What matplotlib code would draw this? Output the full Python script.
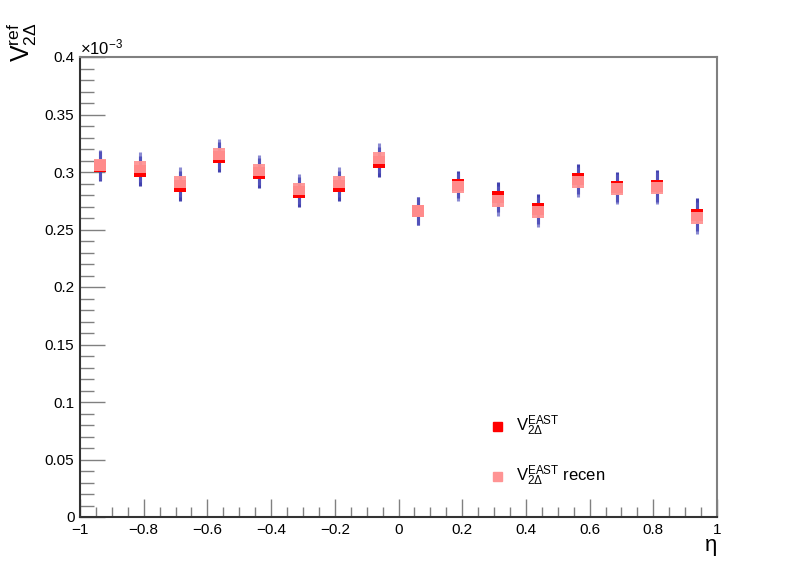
import numpy as np
import matplotlib.pyplot as plt
from matplotlib.ticker import MultipleLocator, FixedFormatter, FixedLocator

plt.rcParams['font.family'] = ['Liberation Sans', 'DejaVu Sans']
plt.rcParams['mathtext.fontset'] = 'custom'
plt.rcParams['mathtext.rm'] = 'Liberation Sans'
plt.rcParams['mathtext.it'] = 'Liberation Sans'

eta = [-0.9375, -0.8125, -0.6875, -0.5625, -0.4375, -0.3125, -0.1875, -0.0625,
       0.0625, 0.1875, 0.3125, 0.4375, 0.5625, 0.6875, 0.8125, 0.9375]
# values in units of 1e-3
v_east = [0.305, 0.301, 0.288, 0.313, 0.299, 0.283, 0.288, 0.309,
          0.266, 0.289, 0.278, 0.268, 0.294, 0.287, 0.288, 0.263]
v_recen = [0.306, 0.304, 0.291, 0.316, 0.302, 0.285, 0.291, 0.312,
           0.266, 0.287, 0.275, 0.265, 0.291, 0.285, 0.286, 0.260]
err = [0.013, 0.013, 0.013, 0.013, 0.013, 0.013, 0.013, 0.013,
       0.012, 0.012, 0.013, 0.013, 0.013, 0.013, 0.014, 0.014]

xticks = [-1, -0.8, -0.6, -0.4, -0.2, 0, 0.2, 0.4, 0.6, 0.8, 1]
xlabels = ['\u22121', '\u22120.8', '\u22120.6', '\u22120.4', '\u22120.2', '0', '0.2', '0.4', '0.6', '0.8', '1']
yticks = [0, 0.05, 0.1, 0.15, 0.2, 0.25, 0.3, 0.35, 0.4]
ylabels = ['0', '0.05', '0.1', '0.15', '0.2', '0.25', '0.3', '0.35', '0.4']

fig = plt.figure(figsize=(7.98, 5.75), dpi=100)
ax = fig.add_axes([80/798, 1-517/575, 637/798, 460/575])

ax.errorbar(eta, v_east, yerr=err, fmt='none', ecolor='#1f1fa0', elinewidth=2.2, alpha=0.85, zorder=2)
ax.errorbar(eta, v_recen, yerr=err, fmt='none', ecolor='#5a5ac0', elinewidth=2.2, alpha=0.7, zorder=2)
ax.plot(eta, v_east, 's', color='#ff0000', markersize=8, markeredgewidth=0, zorder=3)
ax.plot(eta, v_recen, 's', color='#ff9494', markersize=8, markeredgewidth=0, alpha=0.95, zorder=4)

ax.set_xlim(-1, 1)
ax.set_ylim(0, 0.4)
ax.xaxis.set_major_locator(FixedLocator(xticks))
ax.xaxis.set_major_formatter(FixedFormatter(xlabels))
ax.xaxis.set_minor_locator(MultipleLocator(0.05))
ax.yaxis.set_major_locator(FixedLocator(yticks))
ax.yaxis.set_major_formatter(FixedFormatter(ylabels))
ax.yaxis.set_minor_locator(MultipleLocator(0.01))

ax.tick_params(axis='x', which='major', direction='in', length=13, width=1, color='#808080', labelsize=11, pad=4)
ax.tick_params(axis='x', which='minor', direction='in', length=7, width=1, color='#808080')
ax.tick_params(axis='y', which='major', direction='in', length=18, width=1, color='#808080', labelsize=11, pad=4)
ax.tick_params(axis='y', which='minor', direction='in', length=10, width=1, color='#808080')

for s in ['left', 'bottom']:
    ax.spines[s].set_color('#333333')
    ax.spines[s].set_linewidth(1.5)
for s in ['top', 'right']:
    ax.spines[s].set_color('#808080')
    ax.spines[s].set_linewidth(1.5)

fig.text(80/798, 1-47/575, r'$\times$10$^{-3}$', fontsize=12, ha='left', va='center')
fig.text(711/798, 1-546/575, '\u03b7', fontsize=16, ha='center', va='center')
fig.text(22/798, 1-42/575, r'V$^{\rm ref}_{2\Delta}$', fontsize=18, rotation=90, ha='center', va='center')

# legend
fig.patches.append(plt.Rectangle((493/798, 1-431/575), 9/798, 9/575, color='#ff0000', transform=fig.transFigure))
fig.patches.append(plt.Rectangle((493/798, 1-481/575), 9/798, 9/575, color='#ff9494', transform=fig.transFigure))
fig.text(516/798, 1-426/575, r'V$^{\rm EAST}_{2\Delta}$', fontsize=12, ha='left', va='center')
fig.text(516/798, 1-476/575, r'V$^{\rm EAST}_{2\Delta}$ recen', fontsize=12, ha='left', va='center')

fig.savefig('out.png', dpi=100)
